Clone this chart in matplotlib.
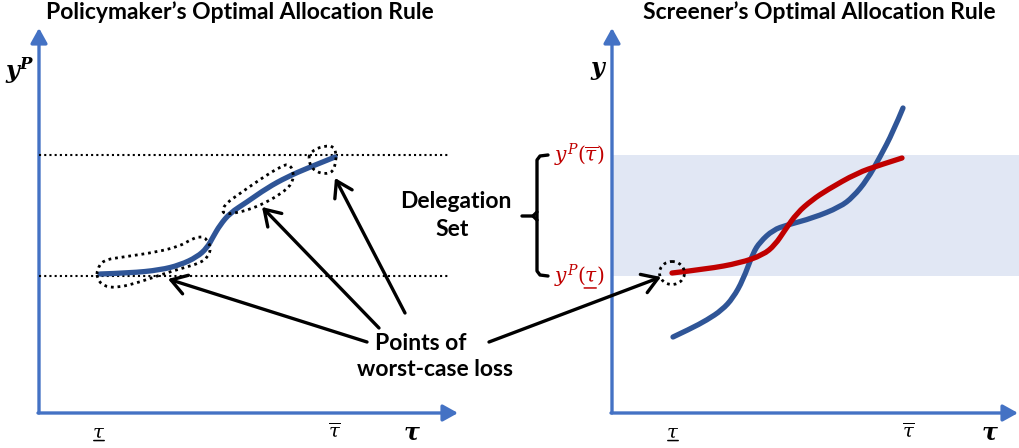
import matplotlib
matplotlib.use("Agg")
import matplotlib.pyplot as plt
from matplotlib.path import Path
from matplotlib.patches import PathPatch, Ellipse, Rectangle

plt.rcParams["mathtext.fontset"] = "custom"
plt.rcParams["mathtext.rm"] = "DejaVu Serif"
plt.rcParams["mathtext.it"] = "DejaVu Serif:italic"
plt.rcParams["mathtext.bf"] = "DejaVu Serif:italic:bold"

W, H = 1019, 448

# --- values (picture units: x to the right, y down) ---
y_lo, y_hi = 276, 155  # y^P(tau_lo), y^P(tau_hi)

# policymaker's rule (left panel)
policy_x = [100, 130, 160, 180, 197, 207, 213, 220, 230, 247, 267, 287, 310, 335]
policy_y = [274, 273, 270, 265, 257, 248, 237, 225, 213, 202, 188, 177, 167, 157]

# screener's rule (right panel, blue) and delegated rule (right panel, red)
screener_x = [673, 690, 707, 722, 733, 743, 753, 760, 773, 787, 813, 840, 853, 867, 880, 893, 903]
screener_y = [337, 329, 320, 310, 298, 280, 253, 242, 230, 225, 218, 207, 197, 180, 157, 132, 108]
deleg_x = [672, 707, 740, 763, 775, 785, 797, 812, 827, 857, 880, 902]
deleg_y = [273, 269, 263, 255, 245, 230, 213, 200, 190, 173, 165, 158]

# dotted outlines around the points of worst-case loss
loop1_x = [97, 103, 123, 157, 180, 190, 200, 207, 211, 208, 200, 183, 163, 140, 117, 103, 97]
loop1_y = [270, 260, 257, 252, 246, 240, 236, 239, 248, 257, 263, 268, 274, 282, 288, 286, 278]
loop2_x = [222, 225, 242, 265, 282, 289, 294, 292, 282, 265, 248, 235, 227]
loop2_y = [212, 204, 192, 176, 166, 164, 172, 184, 193, 203, 210, 213, 214]
loop3_x = [309, 315, 325, 333, 336, 336, 333, 325, 317, 311, 309]
loop3_y = [155, 149, 146, 146, 152, 161, 172, 174, 172, 167, 160]

# arrows from the "Points of worst-case loss" label
arrow_from = [(367, 342), (379, 328), (405, 313), (489, 342)]
arrow_to = [(168, 279), (262, 207), (335, 178), (661, 277)]

AXIS_BLUE = "#4472C4"
CURVE_BLUE = "#2F5597"
RED = "#C00000"
BAND = "#E1E7F4"
SANS = "Lato"

fig = plt.figure(figsize=(W / 100, H / 100), dpi=100)
ax = fig.add_axes([0, 0, 1, 1])
ax.set_xlim(0, W)
ax.set_ylim(H, 0)
ax.axis("off")


def smooth(xs, ys, closed=False):
    """Quadratic Bezier path through the midpoints of the given points."""
    pts = list(zip(xs, ys))
    mid = lambda a, b: ((a[0] + b[0]) / 2, (a[1] + b[1]) / 2)
    if closed:
        n = len(pts)
        verts = [mid(pts[-1], pts[0])]
        codes = [Path.MOVETO]
        for i in range(n):
            verts += [pts[i], mid(pts[i], pts[(i + 1) % n])]
            codes += [Path.CURVE3, Path.CURVE3]
        verts.append(verts[0])
        codes.append(Path.CLOSEPOLY)
    else:
        verts = [pts[0]]
        codes = [Path.MOVETO]
        for i in range(1, len(pts) - 1):
            end = mid(pts[i], pts[i + 1]) if i < len(pts) - 2 else pts[-1]
            verts += [pts[i], end]
            codes += [Path.CURVE3, Path.CURVE3]
    return Path(verts, codes)


def axis_arrow(x0, y0, x1, y1):
    ax.annotate("", xy=(x1, y1), xytext=(x0, y0),
                arrowprops=dict(arrowstyle="-|>,head_length=0.45,head_width=0.25",
                                color=AXIS_BLUE, lw=2.4, shrinkA=0, shrinkB=0,
                                mutation_scale=20), zorder=2)


def underline(txt, x0, x1, y=0.0, color="black"):
    # short rule under part of a text, in fractions of the text's box
    ax.annotate("", xy=(x1, y), xytext=(x0, y), xycoords=txt,
                arrowprops=dict(arrowstyle="-", color=color, lw=1.1,
                                shrinkA=0, shrinkB=0))


# delegation band on the right panel
ax.add_patch(Rectangle((612, y_hi), W - 612, y_lo - y_hi, color=BAND, lw=0, zorder=0))

axis_arrow(39, 413, 39, 28)
axis_arrow(38, 413, 458, 413)
axis_arrow(612, 413, 612, 28)
axis_arrow(611, 413, 1018, 413)

# dotted reference levels (left panel)
for yv in (y_hi, y_lo):
    ax.plot([39, 448], [yv, yv], color="black", lw=1.5, ls=(0, (1, 1.5)))

# curves
for cx, cy, col, z in ((policy_x, policy_y, CURVE_BLUE, 3),
                       (screener_x, screener_y, CURVE_BLUE, 3),
                       (deleg_x, deleg_y, RED, 4)):
    ax.add_patch(PathPatch(smooth(cx, cy), fill=False, ec=col, lw=3.8,
                           capstyle="round", zorder=z))

# dotted outlines
for lx, ly in ((loop1_x, loop1_y), (loop2_x, loop2_y), (loop3_x, loop3_y)):
    ax.add_patch(PathPatch(smooth(lx, ly, closed=True), fill=False, ec="black",
                           lw=2.0, ls=(0, (1, 1.4)), zorder=5))
ax.add_patch(Ellipse((deleg_x[0], deleg_y[0]), 25, 23, fill=False, ec="black",
                     lw=2.0, ls=(0, (1, 1.4)), zorder=5))

# pointing arrows
for (x0, y0), (x1, y1) in zip(arrow_from, arrow_to):
    ax.annotate("", xy=(x1, y1), xytext=(x0, y0),
                arrowprops=dict(arrowstyle="->,head_length=0.55,head_width=0.35",
                                color="black", lw=2.4, shrinkA=0, shrinkB=0,
                                mutation_scale=20), zorder=6)

# brace for the delegation set
ax.plot([548, 540, 537, 537, 540, 548], [y_hi, y_hi + 1, y_hi + 5, y_lo - 5, y_lo - 1, y_lo],
        color="black", lw=2.4, solid_joinstyle="round", solid_capstyle="round")
ax.plot([522, 533, 537], [216, 216, 212], color="black", lw=2.4, solid_capstyle="round")
ax.plot([533, 537], [216, 220], color="black", lw=2.4, solid_capstyle="round")

# titles and labels
ax.text(240, 12, "Policymaker\u2019s Optimal Allocation Rule", family=SANS,
        weight="bold", fontsize=16.5, ha="center", va="center")
ax.text(819, 12, "Screener\u2019s Optimal Allocation Rule", family=SANS,
        weight="bold", fontsize=16.5, ha="center", va="center")
ax.text(20, 71, r"$\mathbf{y^P}$", fontsize=17, ha="center", va="center")
ax.text(599, 70, r"$\mathbf{y}$", fontsize=17, ha="center", va="center")

ax.text(456, 201, "Delegation", family=SANS, weight="bold", fontsize=16.5,
        ha="center", va="center")
ax.text(452, 229, "Set", family=SANS, weight="bold", fontsize=16.5,
        ha="center", va="center")
ax.text(421, 343, "Points of", family=SANS, weight="bold", fontsize=16.5,
        ha="center", va="center")
ax.text(435, 370, "worst-case loss", family=SANS, weight="bold", fontsize=16.5,
        ha="center", va="center")

ax.text(554, y_hi, r"$y^P(\overline{\tau})$", color=RED, fontsize=14.5,
        ha="left", va="center")
lab = ax.text(554, y_lo, r"$y^P(\tau)$", color=RED, fontsize=14.5,
              ha="left", va="center")
underline(lab, 0.60, 0.84, 0.06, RED)

for x_lo, x_hi, x_t in ((99, 335, 412), (673, 909, 990)):
    t = ax.text(x_lo, 432, r"$\tau$", fontsize=14, ha="center", va="center")
    underline(t, 0.1, 0.9, 0.05)
    ax.text(x_hi, 432, r"$\overline{\tau}$", fontsize=14, ha="center", va="center")
    ax.text(x_t, 433, r"$\mathbf{\tau}$", fontsize=17, ha="center", va="center")

fig.savefig("out.png", dpi=100)
